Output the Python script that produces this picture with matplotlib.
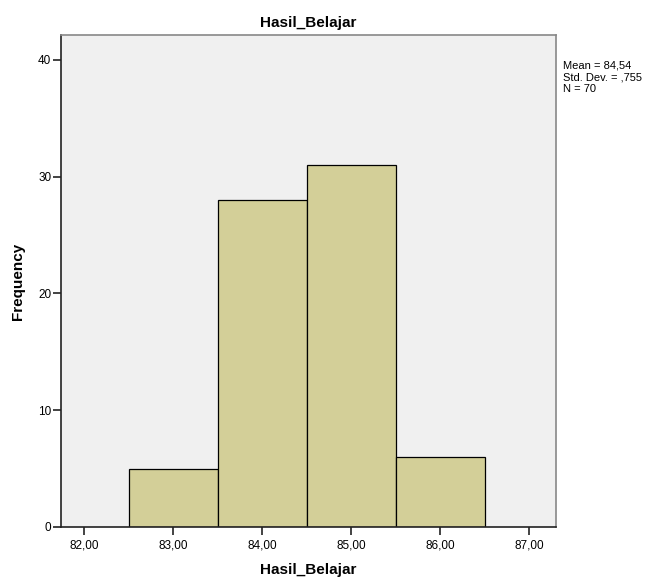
import matplotlib
matplotlib.use("Agg")
import matplotlib.pyplot as plt

# data
bin_centers = [83, 84, 85, 86]
frequencies = [5, 28, 31, 6]
x_ticks = [82, 83, 84, 85, 86, 87]
x_tick_labels = ["82,00", "83,00", "84,00", "85,00", "86,00", "87,00"]
y_ticks = [0, 10, 20, 30, 40]
stats_text = "Mean = 84,54\nStd. Dev. = ,755\nN = 70"

plt.rcParams['font.family'] = ['Liberation Sans', 'DejaVu Sans']

fig = plt.figure(figsize=(6.57, 5.8), dpi=100)
ax = fig.add_axes([0.0928, 0.0914, 0.7535, 0.8483])
ax.set_facecolor('#f0f0f0')

ax.bar(bin_centers, frequencies, width=1.0, color='#d3cf98',
       edgecolor='black', linewidth=0.9, zorder=2)

ax.set_xlim(81.74, 87.3)
ax.set_ylim(0, 42.14)
ax.set_xticks(x_ticks)
ax.set_xticklabels(x_tick_labels)
ax.set_yticks(y_ticks)
ax.tick_params(axis='both', labelsize=8.5, length=6, width=1.2, color='#222222')
ax.tick_params(axis='x', pad=3)
ax.tick_params(axis='y', pad=1)

for side in ['left', 'bottom']:
    ax.spines[side].set_color('#222222')
    ax.spines[side].set_linewidth(1.2)
for side in ['top', 'right']:
    ax.spines[side].set_color('#888888')
    ax.spines[side].set_linewidth(1.2)

ax.set_title("Hasil_Belajar", fontsize=11, fontweight='bold', pad=6)
ax.set_xlabel("Hasil_Belajar", fontsize=11, fontweight='bold', labelpad=8)
ax.set_ylabel("Frequency", fontsize=11, fontweight='bold', labelpad=9)

fig.text(563 / 657, 1 - 60 / 580, stats_text, fontsize=8, va='top', ha='left',
         linespacing=1.25)

fig.savefig("out.png", dpi=100)
